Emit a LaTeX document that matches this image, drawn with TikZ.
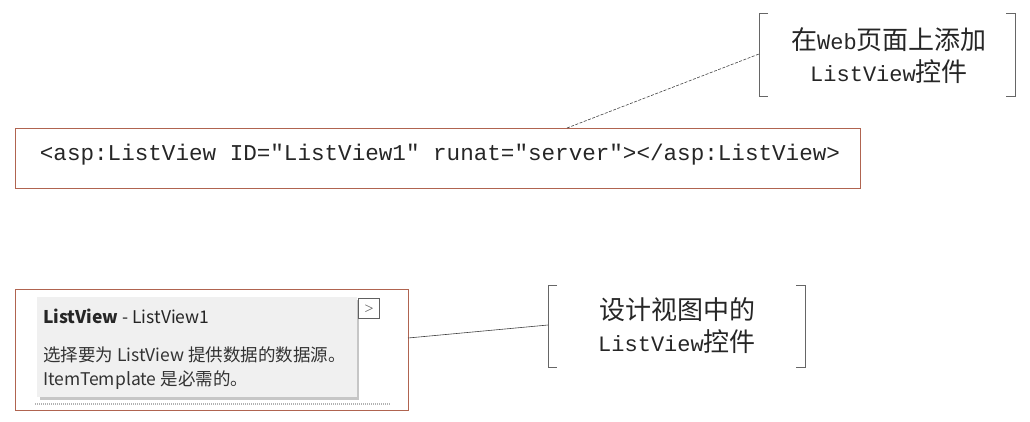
\documentclass[tikz,border=0pt]{standalone}
\usepackage{fontspec}
\setmainfont{Liberation Serif}
\newfontfamily\cjk{Noto Sans CJK SC}
\newfontfamily\codefont{Liberation Mono}
\newfontfamily\uifont{Noto Sans CJK SC}
\definecolor{boxred}{HTML}{B06450}
\definecolor{panel}{HTML}{F0F0F0}
\definecolor{lead}{HTML}{404040}
\newcommand{\lat}[1]{{\codefont\fontsize{22}{32}\selectfont #1}}
\begin{document}
\begin{tikzpicture}[x=1pt,y=-1pt,
  redbox/.style={draw=boxred,line width=1.3pt},
  bracketline/.style={draw=gray!80!black,line width=0.8pt},
  leader/.style={draw=lead,line width=0.6pt},
  calltext/.style={font=\cjk\fontsize{26}{32}\selectfont,align=center,text=black!85},
]
\useasboundingbox (0,0) rectangle (1030,421);
% top callout
\node[redbox,minimum width=845,minimum height=60,anchor=north west,inner sep=0] (code) at (15,128) {};
\node[font=\codefont\fontsize{22.6}{24}\selectfont,text=black!85] (codetext) at (440,155) {<asp:ListView ID="ListView1" runat="server"></asp:ListView>};
\node[minimum width=256,minimum height=83,anchor=north west,inner sep=0] (note1) at (759,13) {};
\draw[bracketline] ([xshift=9]note1.north west) -- (note1.north west) -- (note1.south west) -- ([xshift=9]note1.south west);
\draw[bracketline] ([xshift=-9]note1.north east) -- (note1.north east) -- (note1.south east) -- ([xshift=-9]note1.south east);
\node[calltext] (note1text) at (889,56) {在\lat{Web}页面上添加\\\lat{ListView}控件};
\coordinate (c1) at (567,128);
\coordinate (n1) at (759,54);
\draw[leader,dashed,dash pattern=on 3pt off 1.5pt] (c1) -- (n1);
% bottom callout
\node[redbox,minimum width=393,minimum height=121,anchor=north west,inner sep=0] (design) at (15,289) {};
\fill[gray!45] (40,300) rectangle (359,400);
\node[fill=panel,minimum width=320,minimum height=100,anchor=north west,inner sep=0] (panel) at (37,297) {};
\node[draw=gray!75!black,line width=1.2pt,fill=white,minimum width=21,minimum height=20,anchor=north west,inner sep=0,font=\sffamily\bfseries\fontsize{11}{12}\selectfont,text=gray!70!black] (btn) at (358,298) {>};
\node[anchor=west,inner sep=0,font=\uifont\fontsize{17.5}{20}\selectfont,text=black!85] (title) at (43,316) {\textbf{ListView} - ListView1};
\node[anchor=west,inner sep=0,font=\uifont\fontsize{17.5}{20}\selectfont,text=black!80,align=left] (desc1) at (43,355) {选择要为 ListView 提供数据的数据源。};
\node[anchor=west,inner sep=0,font=\uifont\fontsize{17.5}{20}\selectfont,text=black!80,align=left] (desc2) at (43,380) {ItemTemplate 是必需的。};
\draw[gray!60,line width=1.5pt,dash pattern=on 1pt off 1pt] (35,404) -- (390,404);
\node[minimum width=257,minimum height=82,anchor=north west,inner sep=0] (note2) at (548,285) {};
\draw[bracketline] ([xshift=9]note2.north west) -- (note2.north west) -- (note2.south west) -- ([xshift=9]note2.south west);
\draw[bracketline] ([xshift=-9]note2.north east) -- (note2.north east) -- (note2.south east) -- ([xshift=-9]note2.south east);
\node[calltext] (note2text) at (677,326) {设计视图中的\\\lat{ListView}控件};
\coordinate (d1) at (408,338);
\coordinate (n2) at (548,325);
\draw[leader] (d1) -- (n2);
\end{tikzpicture}
\end{document}
